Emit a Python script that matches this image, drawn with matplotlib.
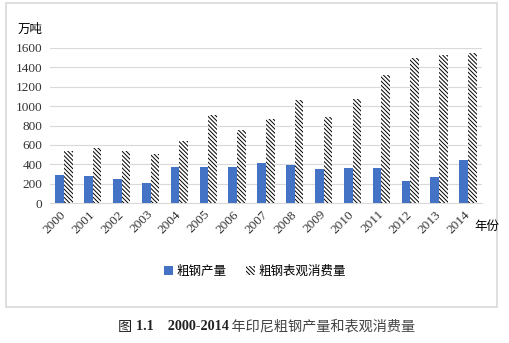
import numpy as np
import matplotlib
matplotlib.use("Agg")
import matplotlib.pyplot as plt
from matplotlib.patches import Rectangle, Patch

# 2000-2014 Indonesia crude steel (10k tonnes)
years = [str(y) for y in range(2000, 2015)]
production = [289, 279, 248, 206, 372, 372, 372, 413, 392, 351, 361, 361, 227, 268, 444]
consumption = [537, 568, 537, 506, 640, 908, 754, 867, 1063, 891, 1074, 1321, 1497, 1528, 1548]
yticks = [0, 200, 400, 600, 800, 1000, 1200, 1400, 1600]

cjk = ['Noto Sans CJK SC', 'DejaVu Sans']
serif = ['Liberation Serif', 'Noto Sans CJK SC']
plt.rcParams['hatch.linewidth'] = 0.7
HATCH = '\\' * 8

W, H = 509, 343
fig = plt.figure(figsize=(W / 100, H / 100), dpi=100)

# outer chart frame (light gray)
fig.patches.append(Rectangle((6 / W, 1 - 307 / H), (497 - 6) / W, (307 - 3) / H,
                             transform=fig.transFigure, fill=False,
                             edgecolor='#D9D9D9', linewidth=1.2))

left, right, bottom, top = 49.5, 482.4, 203, 48
ax = fig.add_axes([left / W, 1 - bottom / H, (right - left) / W, (bottom - top) / H])

x = np.arange(len(years))
bw = 0.3
ax.bar(x - bw / 2, production, width=bw, color='#4472C4', linewidth=0, zorder=3)
ax.bar(x + bw / 2, consumption, width=bw, color='white', edgecolor='black',
       linewidth=0, hatch=HATCH, zorder=3)

ax.set_xlim(-0.5, len(years) - 0.5)
ax.set_ylim(0, 1600)
ax.set_yticks(yticks)
ax.set_yticklabels([str(v) for v in yticks], family=serif, fontsize=9.5, color='#333333')
ax.set_xticks(x)
ax.set_xticklabels(years, rotation=45, ha='right', va='center', rotation_mode='anchor',
                   family=serif, fontsize=9.5, color='#333333')
ax.tick_params(axis='both', length=0)
ax.tick_params(axis='y', pad=5)
ax.tick_params(axis='x', pad=7)
ax.grid(axis='y', color='#D9D9D9', linewidth=0.8, zorder=0)
for s in ['top', 'right', 'left']:
    ax.spines[s].set_visible(False)
ax.spines['bottom'].set_color('#D9D9D9')
ax.spines['bottom'].set_linewidth(0.8)

fig.text(18 / W, 1 - 29 / H, '万吨', family=cjk, fontsize=9, va='center', ha='left')
fig.text(474 / W, 1 - 226 / H, '年份', family=cjk, fontsize=9, va='center', ha='left')

handles = [Patch(facecolor='#4472C4', linewidth=0),
           Patch(facecolor='white', edgecolor='black', linewidth=0, hatch=HATCH)]
fig.legend(handles, ['粗钢产量', '粗钢表观消费量'], loc='center', bbox_to_anchor=(255 / W, 1 - 271 / H),
           ncol=2, frameon=False, prop={'family': cjk, 'size': 9},
           handlelength=0.7, handleheight=0.7, handletextpad=0.3, columnspacing=1.6)

# caption below the chart frame, with bold numbers
t1 = fig.text(118 / W, 1 - 327 / H, '图 ', family=serif, fontsize=10.2, va='center', ha='left',
              color='#222222')
t2 = plt.annotate('1.1    2000-2014', xy=(1, 0), xycoords=t1, va='bottom', ha='left',
                  family=serif, fontsize=10.2, fontweight='bold', color='#222222',
                  annotation_clip=False)
plt.annotate(' 年印尼粗钢产量和表观消费量', xy=(1, 0), xycoords=t2, va='bottom', ha='left',
             family=serif, fontsize=10.2, color='#444444', annotation_clip=False)

fig.savefig('out.png', dpi=100)
